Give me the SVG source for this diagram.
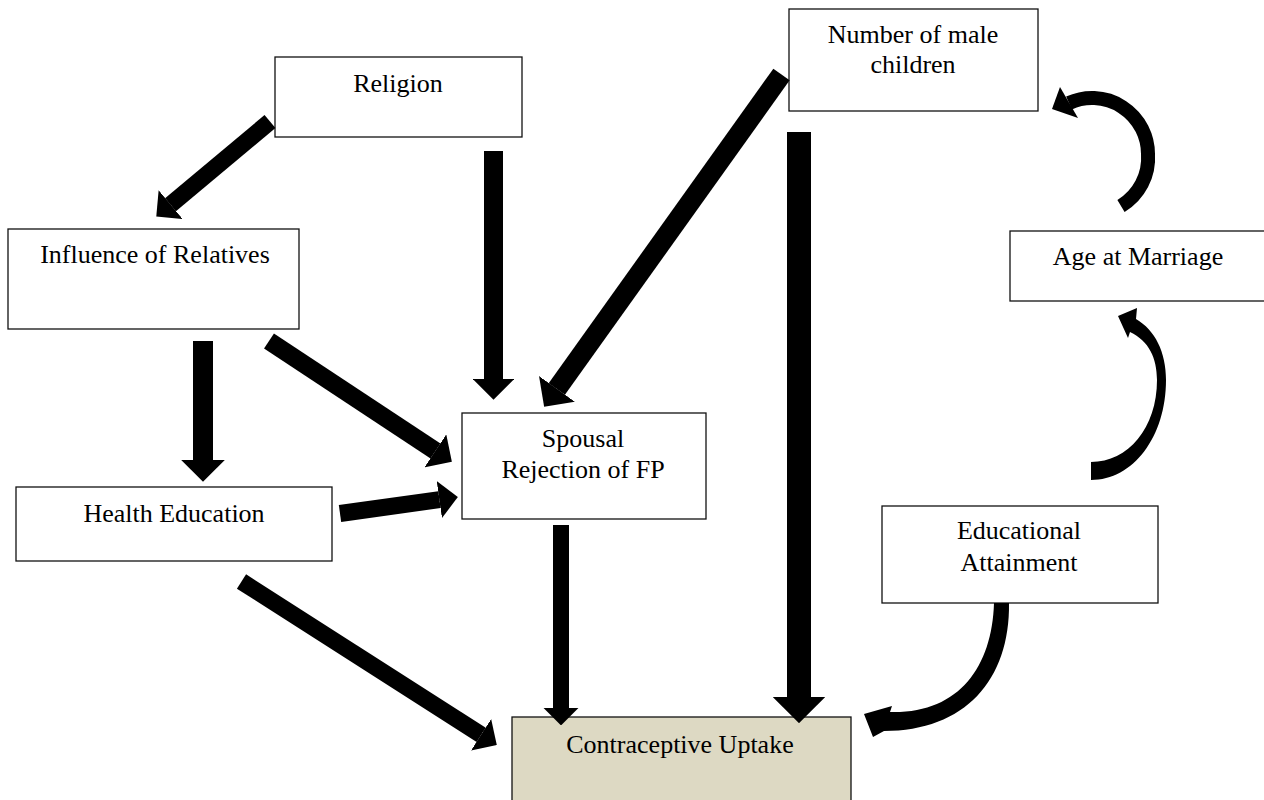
<svg xmlns="http://www.w3.org/2000/svg" width="1264" height="800" viewBox="0 0 1264 800">
<style>
.box{fill:#fff;stroke:#111;stroke-width:1.3}
.cu{fill:#DDD9C3;stroke:#111;stroke-width:1.3}
.t{font-family:"Liberation Serif","Times New Roman",serif;font-size:26px;fill:#000;text-anchor:middle}
.sh{stroke:#000;fill:none;stroke-linecap:butt}
.hd{fill:#000}
</style>
<defs>
<marker id="ah" viewBox="0 -1.1 1.1 2.2" markerWidth="1.1" markerHeight="2.2" refX="0.01" refY="0" orient="auto" markerUnits="strokeWidth">
<path d="M0,-1.1 L1.1,0 L0,1.1 Z" fill="#000"/>
</marker>
</defs>
<rect width="1264" height="800" fill="#fff"/>

<g id="religion">
<rect class="box" x="275" y="57" width="247" height="80"/>
<text class="t" x="398" y="92">Religion</text>
</g>
<g id="male-children">
<rect class="box" x="789" y="9" width="249" height="102"/>
<text class="t" x="913" y="43">Number of male</text>
<text class="t" x="913" y="73">children</text>
</g>
<g id="age-marriage">
<rect class="box" x="1010" y="231" width="270" height="70"/>
<text class="t" x="1138" y="265">Age at Marriage</text>
</g>
<g id="relatives">
<rect class="box" x="8" y="229" width="291" height="100"/>
<text class="t" x="155" y="263">Influence of Relatives</text>
</g>
<g id="health-education">
<rect class="box" x="16" y="487" width="316" height="74"/>
<text class="t" x="174" y="522">Health Education</text>
</g>
<g id="spousal">
<rect class="box" x="462" y="413" width="244" height="106"/>
<text class="t" x="583" y="447">Spousal</text>
<text class="t" x="583" y="478">Rejection of FP</text>
</g>
<g id="educational">
<rect class="box" x="882" y="506" width="276" height="97"/>
<text class="t" x="1019" y="539">Educational</text>
<text class="t" x="1019" y="571">Attainment</text>
</g>
<g id="contraceptive">
<rect class="cu" x="512" y="717" width="339" height="100"/>
<text class="t" x="680" y="753">Contraceptive Uptake</text>
</g>

<g id="connectors">
<line class="sh" x1="270" y1="121.5" x2="170.5" y2="204.7" stroke-width="17" marker-end="url(#ah)"/>
<line class="sh" x1="493.5" y1="151" x2="493.5" y2="379" stroke-width="19" marker-end="url(#ah)"/>
<line class="sh" x1="781.5" y1="74.5" x2="556.8" y2="389" stroke-width="20" marker-end="url(#ah)"/>
<line class="sh" x1="799" y1="132" x2="799" y2="697" stroke-width="24" marker-end="url(#ah)"/>
<line class="sh" x1="203" y1="341" x2="203" y2="460" stroke-width="20" marker-end="url(#ah)"/>
<line class="sh" x1="269" y1="341" x2="435.5" y2="451" stroke-width="18" marker-end="url(#ah)"/>
<line class="sh" x1="340" y1="513.5" x2="439.5" y2="499.6" stroke-width="17" marker-end="url(#ah)"/>
<line class="sh" x1="241.5" y1="581.5" x2="481.2" y2="734.9" stroke-width="17" marker-end="url(#ah)"/>
<line class="sh" x1="561" y1="525" x2="561" y2="708" stroke-width="16" marker-end="url(#ah)"/>
<path class="sh" d="M1121,206 A56,56 0 0 0 1148,154 A56,56 0 0 0 1069,103" stroke-width="14"/>
<polygon class="hd" points="1052,109 1060,87 1078,118"/>
<path class="hd" d="M1091,462 C1128,462 1157,428 1157,380 C1157,358 1149,341 1130,332 L1128,338 L1118,316 L1137,308 L1136,319 C1155,330 1166,352 1166,380 C1166,437 1133,480 1091,480 Z"/>
<path class="hd" d="M994,603 C992,668 958,714 890,712 L892,706 L864,714 L873,737 L884,731 C965,731 1010,680 1009,603 Z"/>
</g>
</svg>
